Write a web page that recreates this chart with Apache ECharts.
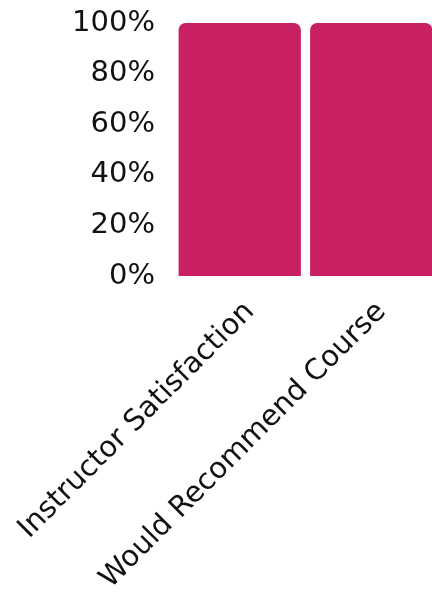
<!DOCTYPE html>
<html><head><meta charset="utf-8">
<script src="https://cdn.jsdelivr.net/npm/echarts@6/dist/echarts.min.js"></script>
<style>html,body{margin:0;padding:0;background:#fff}#c{width:432px;height:592px}</style>
</head><body><div id="c"></div>
<script>
const categories = ["Instructor Satisfaction", "Would Recommend Course"];
const values = [100, 100];
const yTicks = [0, 20, 40, 60, 80, 100];

const chart = echarts.init(document.getElementById('c'), null, {renderer: 'canvas'});
chart.setOption({
  animation: false,
  grid: {left: 174, top: 23, width: 263, height: 253, containLabel: false, outerBoundsMode: 'none'},
  xAxis: {
    type: 'category', data: categories,
    axisLine: {show: false}, axisTick: {show: false},
    axisLabel: {rotate: 45, margin: 21, verticalAlign: 'top', color: '#111', fontSize: 29, fontFamily: 'DejaVu Sans'}
  },
  yAxis: {
    type: 'value', min: yTicks[0], max: yTicks[yTicks.length-1], interval: 20,
    splitLine: {show: false}, axisLine: {show: false}, axisTick: {show: false},
    axisLabel: {formatter: '{value}%', margin: 19, color: '#111', fontSize: 29, fontFamily: 'DejaVu Sans'}
  },
  series: [{
    type: 'bar', data: values, barCategoryGap: '7%',
    itemStyle: {color: '#C92064', borderRadius: [7, 7, 0, 0]}
  }]
});
</script></body></html>
